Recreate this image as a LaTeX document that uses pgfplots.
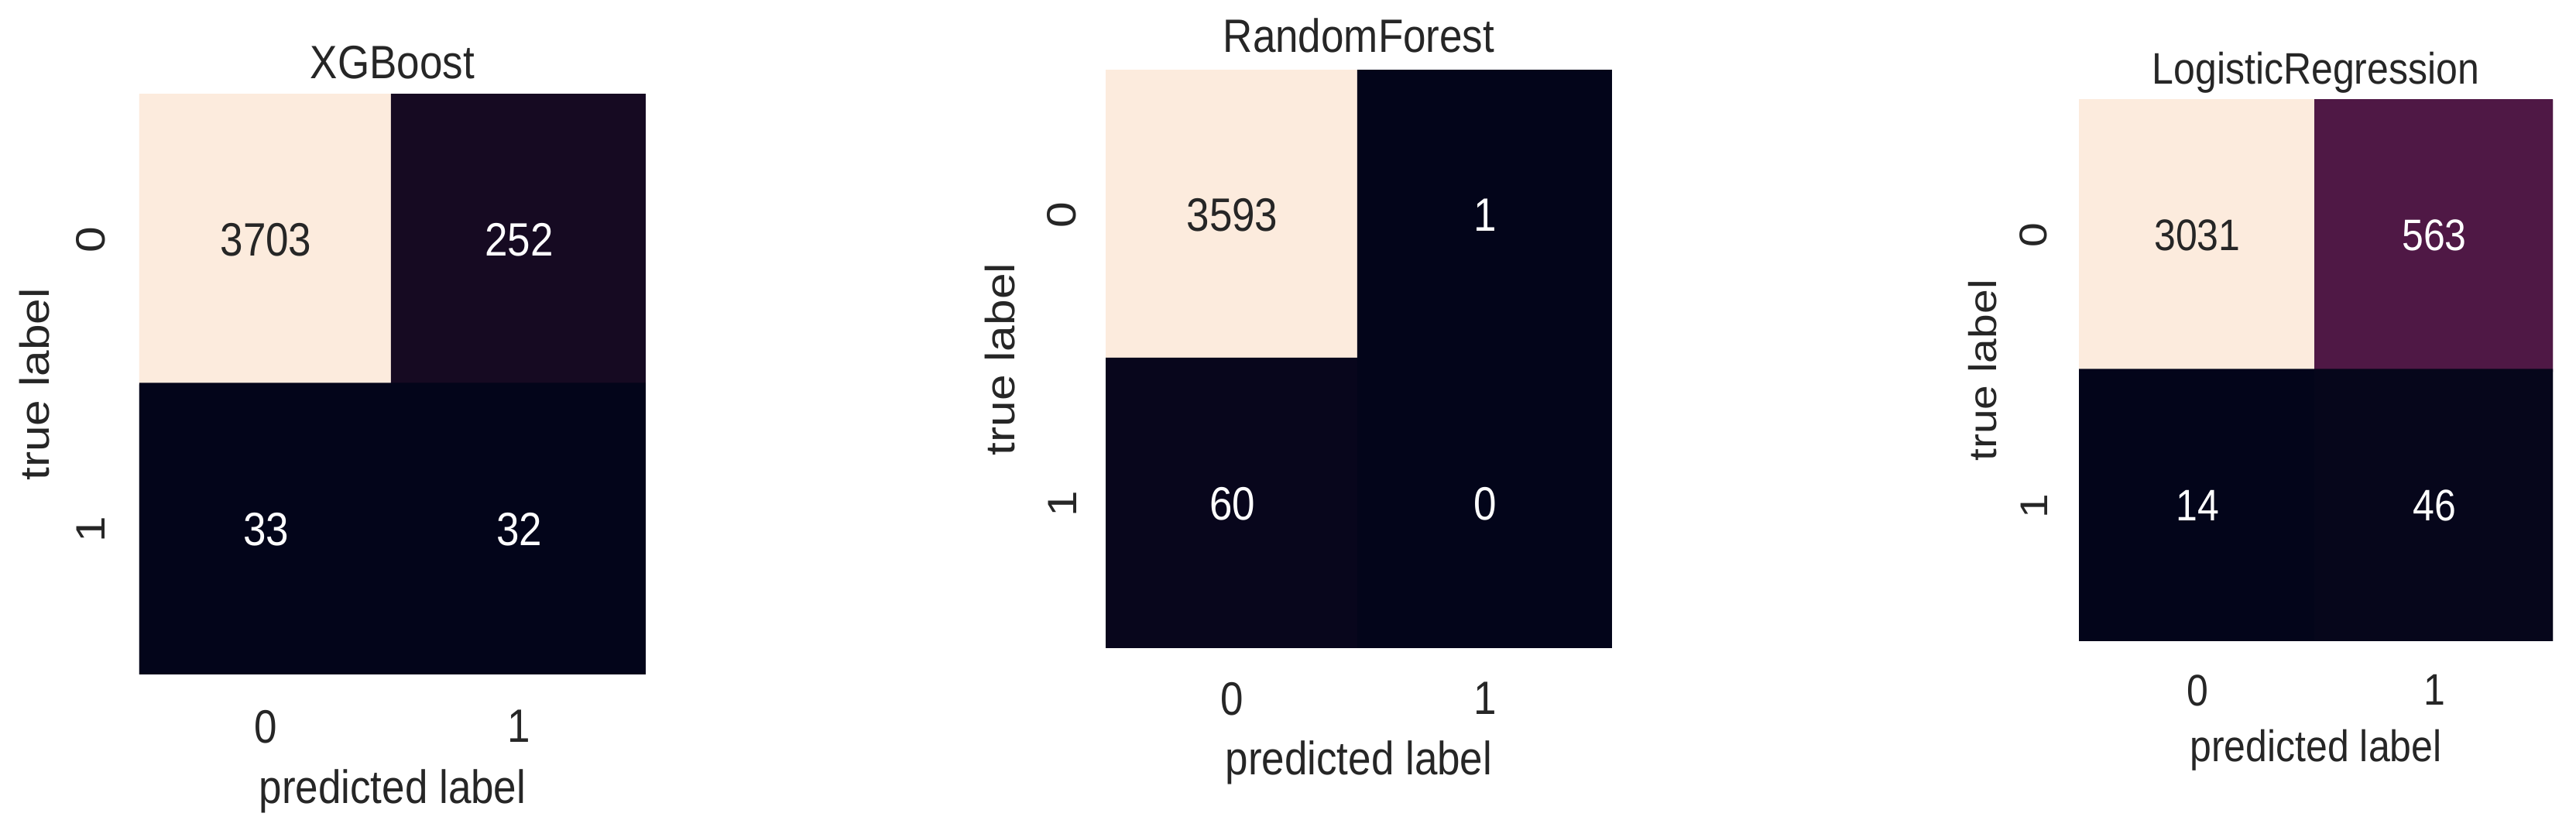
\documentclass[border=0pt]{standalone}
\usepackage{fontspec}
\setmainfont{Liberation Sans}
\usepackage{pgfplots}
\pgfplotsset{compat=1.18}
\definecolor{txt}{HTML}{262626}
\newcommand\fA{\fontsize{5.3}{6}\selectfont}
\newcommand\fB{\fontsize{5.0}{6}\selectfont}
\pgfplotsset{
  colormap={rocket}{rgb255(0pt)=(3,5,26) rgb255(6pt)=(22,10,34) rgb255(14pt)=(53,25,62) rgb255(18pt)=(78,24,69) rgb255(29pt)=(112,31,87) rgb255(43pt)=(173,23,89) rgb255(57pt)=(225,51,66) rgb255(71pt)=(243,118,81) rgb255(86pt)=(246,180,143) rgb255(100pt)=(252,235,221)},
  cmx/.style n args={6}{
    scale only axis, enlargelimits=false, anchor=south west,
    xmin=-0.5, xmax=1.5, ymin=-0.5, ymax=1.5, y dir=reverse,
    xtick={0,1}, ytick={0,1}, xticklabels={0,1}, yticklabels={0,1},
    axis line style={draw=none}, tick style={draw=none}, major tick length=0pt,
    /pgf/number format/assume math mode=true,
    colormap name=rocket,
    every axis title/.style={at={(axis description cs:0.5,1)}, anchor=base, inner sep=0pt, yshift=#2, font=#1, text=txt, yscale=1.14},
    xlabel={predicted label}, ylabel={true label},
    every axis x label/.style={at={(axis description cs:0.5,0)}, anchor=north, inner sep=0pt, yshift=-#4, font=#1, text=txt, yscale=1.14},
    every axis y label/.style={at={(axis description cs:0,0.5)}, anchor=south, inner sep=0pt, xshift=-#6, rotate=90, xscale=1.14, font=#1, text=txt},
    xticklabel style={anchor=north, inner sep=0pt, yshift=-#3, font=#1, text=txt, yscale=1.14},
    yticklabel style={anchor=south, inner sep=0pt, xshift=-#5, rotate=90, xscale=1.14, font=#1, text=txt},
  },
  numlbl/.style={only marks, mark=*, mark size=0pt, mark options={draw=none, fill=none},
    point meta=explicit symbolic, nodes near coords,
    every node near coord/.style={anchor=center, inner sep=0pt, yscale=1.14, #1}},
}
\begin{document}
\begin{tikzpicture}
\path[use as bounding box] (0,0) rectangle (332.7pt,106.8pt);

% XGBoost
\begin{axis}[cmx={\fA}{2.0pt}{4.4pt}{12.0pt}{4.2pt}{11.4pt},
  at={(18.0pt,19.7pt)}, width=65.4pt, height=74.9pt, title={XGBoost}]
\addplot[matrix plot*, mesh/cols=2, point meta=explicit] table[x=x, y=y, meta=v] {
x y v
0 0 3703
1 0 252
0 1 33
1 1 32
};
\addplot[numlbl={font=\fA, text=txt}] table[meta=t] {
x y t
0 0 3703
};
\addplot[numlbl={font=\fA, text=white}] table[meta=t] {
x y t
1 0 252
0 1 33
1 1 32
};
\end{axis}

% RandomForest
\begin{axis}[cmx={\fA}{2.3pt}{4.2pt}{11.7pt}{3.6pt}{11.5pt},
  at={(142.8pt,23.1pt)}, width=65.4pt, height=74.6pt, title={RandomForest}]
\addplot[matrix plot*, mesh/cols=2, point meta=explicit] table[x=x, y=y, meta=v] {
x y v
0 0 3593
1 0 1
0 1 60
1 1 0
};
\addplot[numlbl={font=\fA, text=txt}] table[meta=t] {
x y t
0 0 3593
};
\addplot[numlbl={font=\fA, text=white}] table[meta=t] {
x y t
1 0 1
0 1 60
1 1 0
};
\end{axis}

% LogisticRegression
\begin{axis}[cmx={\fB}{2.0pt}{4.1pt}{11.2pt}{3.9pt}{10.4pt},
  at={(268.5pt,24.0pt)}, width=61.2pt, height=69.9pt, title={LogisticRegression}]
\addplot[matrix plot*, mesh/cols=2, point meta=explicit] table[x=x, y=y, meta=v] {
x y v
0 0 3031
1 0 563
0 1 14
1 1 46
};
\addplot[numlbl={font=\fB, text=txt}] table[meta=t] {
x y t
0 0 3031
};
\addplot[numlbl={font=\fB, text=white}] table[meta=t] {
x y t
1 0 563
0 1 14
1 1 46
};
\end{axis}
\end{tikzpicture}
\end{document}
